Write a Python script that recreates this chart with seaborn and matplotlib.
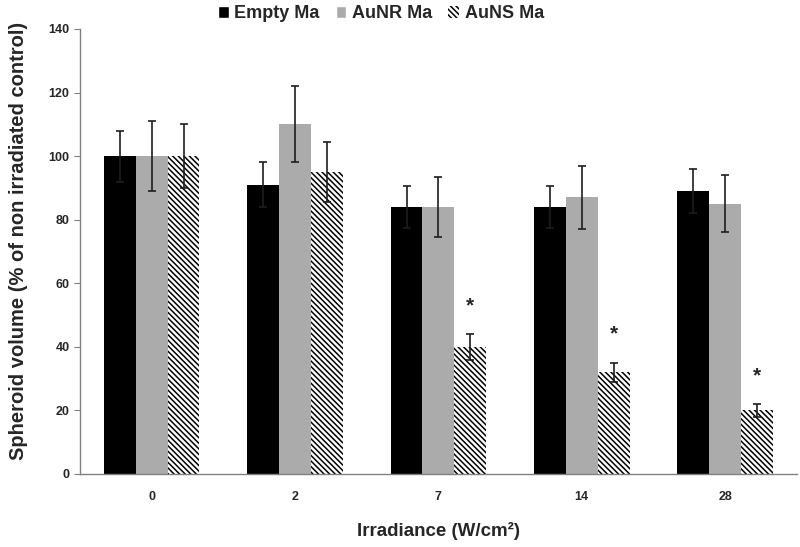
import pandas as pd
import matplotlib.pyplot as plt
import seaborn as sns
from matplotlib.patches import Patch

# Data
irradiance = ['0', '2', '7', '14', '28']
groups = ['Empty Ma', 'AuNR Ma', 'AuNS Ma']
empty_ma = [100, 91, 84, 84, 89]
aunr_ma = [100, 110, 84, 87, 85]
auns_ma = [100, 95, 40, 32, 20]
empty_err = [8, 7, 6.5, 6.5, 7]
aunr_err = [11, 12, 9.5, 10, 9]
auns_err = [10, 9.5, 4, 3, 2]
stars = [None, None, '*', '*', '*']

colors = ['#000000', '#ababab', '#ffffff']
HATCH = '\\\\\\\\\\\\'

df = pd.DataFrame({
    'Irradiance': irradiance * 3,
    'Group': [g for g in groups for _ in irradiance],
    'Volume': empty_ma + aunr_ma + auns_ma,
    'Err': empty_err + aunr_err + auns_err,
})

sns.set_style('white')
plt.rcParams['font.family'] = ['Liberation Sans', 'DejaVu Sans']
plt.rcParams['font.weight'] = 'bold'
plt.rcParams['hatch.linewidth'] = 1.1

fig = plt.figure(figsize=(8, 5.47), dpi=100)
ax = fig.add_axes([0.1, 0.1335, 0.896, 0.8135])

sns.barplot(data=df, x='Irradiance', y='Volume', hue='Group', order=irradiance,
            hue_order=groups, palette=colors, width=0.667, errorbar=None,
            saturation=1, legend=False, ax=ax, linewidth=0)

# hatch the AuNS bars, add error bars
n = len(irradiance)
for gi, g in enumerate(groups):
    sub = df[df['Group'] == g]
    for i, p in enumerate(ax.patches[gi * n:(gi + 1) * n]):
        if gi == 2:
            p.set_hatch(HATCH)
            p.set_edgecolor('black')
            p.set_linewidth(0)
        xc = p.get_x() + p.get_width() / 2
        val = sub['Volume'].iloc[i]
        err = sub['Err'].iloc[i]
        ax.errorbar(xc, val, yerr=err, fmt='none', ecolor='#1e1e1e',
                    elinewidth=1.2, capsize=3, capthick=1.2, zorder=5)
        if gi == 2 and stars[i]:
            ax.text(xc, val + err + 9, stars[i], ha='center', va='center',
                    fontsize=15, fontweight='bold')

ax.set_ylim(0, 140)
ax.set_xlim(-0.5, 4.5)
ax.set_yticks(range(0, 141, 20))
ax.set_xticks(range(5))
ax.set_xticks([0.5, 1.5, 2.5, 3.5], minor=True)
ax.tick_params(axis='x', which='major', length=0, pad=12, labelsize=9)
ax.tick_params(axis='x', which='minor', length=4, direction='out', color='#808080')
ax.tick_params(axis='y', length=4, direction='out', color='#808080', labelsize=9,
               left=True)
for lab in ax.get_xticklabels() + ax.get_yticklabels():
    lab.set_fontweight('bold')

sns.despine(ax=ax)
for s in ['left', 'bottom']:
    ax.spines[s].set_color('#808080')
    ax.spines[s].set_linewidth(1)

ax.set_ylabel('Spheroid volume (% of non irradiated control)', fontsize=14.5,
              fontweight='bold')
ax.yaxis.set_label_coords(-0.072, 0.524)
ax.set_xlabel('Irradiance (W/cm²)', fontsize=13.5, fontweight='bold', labelpad=14)

handles = [Patch(facecolor=colors[0]), Patch(facecolor=colors[1]),
           Patch(facecolor='white', hatch=HATCH, edgecolor='black', linewidth=0)]
fig.legend(handles, groups, loc='upper center', bbox_to_anchor=(0.476, 1.02),
           ncol=3, frameon=False, handlelength=0.6, handleheight=0.6,
           handletextpad=0.3, columnspacing=0.9,
           prop={'weight': 'bold', 'size': 13})

fig.savefig('out.png', dpi=100)
